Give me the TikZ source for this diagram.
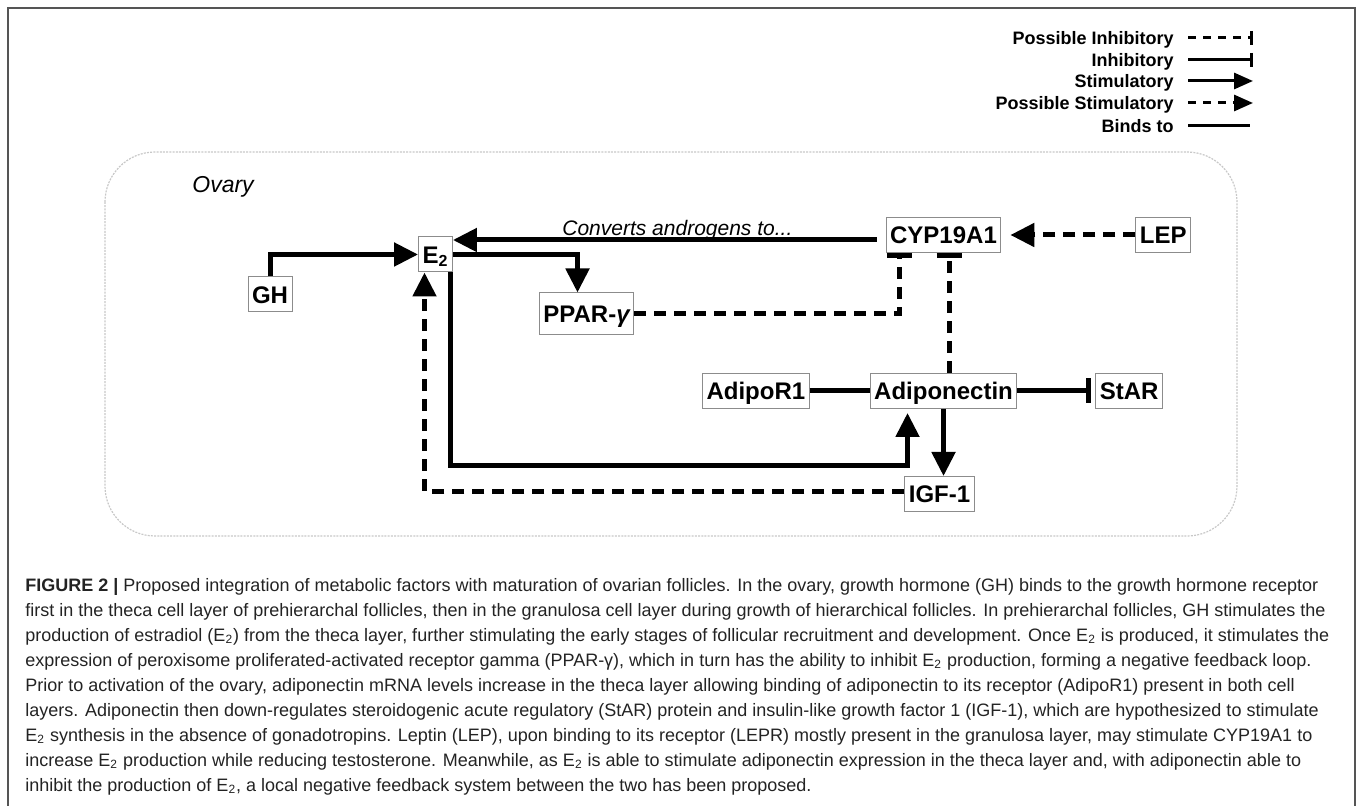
\documentclass[tikz,border=0pt]{standalone}
\usepackage{fontspec}
\setmainfont{Liberation Sans}
\usetikzlibrary{arrows.meta,positioning}
\definecolor{framegray}{RGB}{85,85,85}
\definecolor{boxgray}{RGB}{140,140,140}
\definecolor{ovarygray}{RGB}{200,200,200}
\definecolor{captext}{RGB}{35,35,35}

\begin{document}
\begin{tikzpicture}[
    x=0.5pt, y=-0.5pt,
    factor/.style={rectangle, draw=boxgray, line width=0.5pt, font=\bfseries\fontsize{12pt}{14pt}\selectfont, text height=8.6pt, text depth=0pt, inner xsep=2pt, inner ysep=4.45pt},
    stim/.style={-{Triangle[length=12pt,width=11.5pt]}, line width=2.5pt},
    pstim/.style={stim, dash pattern=on 6pt off 4pt},
    inh/.style={-{Bar[width=12.5pt]}, line width=2.5pt},
    pinh/.style={inh, dash pattern=on 6pt off 4pt},
    binds/.style={line width=2.5pt},
    keytext/.style={anchor=east, inner sep=0pt, font=\bfseries\fontsize{9pt}{11pt}\selectfont, text height=6.45pt, text depth=0pt},
    keyline/.style={line width=1.5pt, shorten <=7pt},
    keystim/.style={keyline, -{Triangle[length=9.5pt,width=8pt]}},
    keypstim/.style={keystim, dash pattern=on 4pt off 3.5pt},
    keyinh/.style={keyline, -{Bar[width=7pt]}},
    keypinh/.style={keyinh, dash pattern=on 4pt off 3.5pt},
    ovarybox/.style={draw=ovarygray, line width=0.6pt, dash pattern=on 1pt off 0.6pt, rounded corners=25pt}
]
\useasboundingbox (0,0) rectangle (1358,806);

% Frame
\draw[framegray, line width=1pt] (8,806) -- (8,8) -- (1355,8) -- (1355,806);

% Legend
\coordinate (keyx) at (1253,0);
\node[keytext] (kpinh) at (1174,38) {Possible Inhibitory};
\node[keytext] (kinh) at (1174,60) {Inhibitory};
\node[keytext] (kstim) at (1174,81) {Stimulatory};
\node[keytext] (kpstim) at (1174,103) {Possible Stimulatory};
\node[keytext] (kbinds) at (1174,126) {Binds to};
\draw[keypinh] (kpinh.east) -- (kpinh.east -| keyx);
\draw[keyinh] (kinh.east) -- (kinh.east -| keyx);
\draw[keystim] (kstim.east) -- (kstim.east -| keyx);
\draw[keypstim] (kpstim.east) -- (kpstim.east -| keyx);
\draw[keyline, shorten >=1.5pt] (kbinds.east) -- (kbinds.east -| keyx);

% Ovary
\draw[ovarybox] (105,152) rectangle (1237,536);
\node[anchor=base west, inner sep=0pt, font=\itshape\fontsize{11.5pt}{13pt}\selectfont] (ovary) at (192,193) {Ovary};

% Factors
\node[factor] (gh) at (270,294.5) {GH};
\node[factor] (e2) at (435.5,254.5) {E\textsubscript{2}};
\node[factor, minimum height=21pt] (ppar) at (586.5,314) {PPAR-{\itshape γ}};
\node[factor] (cyp) at (943.5,235) {CYP19A1};
\node[factor, right=67pt of cyp] (lep) {LEP};
\node[factor] (adipo) at (943.5,391) {Adiponectin};
\node[factor, left=30pt of adipo] (adipor) {AdipoR1};
\node[factor, right=39pt of adipo] (star) {StAR};
\node[factor] (igf) at (939.5,494) {IGF-1};

% Connectors
\coordinate (convy) at ([yshift=-2.5pt]cyp.west);
\draw[stim, shorten <=4.5pt] (convy) -- (convy -| e2.east);
\node[anchor=base west, inner sep=0pt, font=\itshape\fontsize{10.5pt}{12pt}\selectfont] (convlabel) at (562,236) {Converts androgens to...};
\draw[stim] (gh.north) |- (e2.west);
\draw[pstim, shorten >=4.5pt] (lep.west) -- (cyp.east);
\draw[stim] (e2.east) -| ([xshift=-4.5pt]ppar.north);
\draw[pinh] (ppar.east) -| ([xshift=-22.25pt]cyp.south);
\draw[pinh] ([xshift=2.75pt]adipo.north) -- ([xshift=2.75pt]cyp.south);
\draw[binds] (adipor.east) -- (adipo.west);
\draw[inh, shorten >=2pt] (adipo.east) -- (star.west);
\draw[stim] (adipo.south) -- (adipo.south |- igf.north);
\coordinate (e2out) at ([xshift=-1pt]e2.south east);
\coordinate (adipoin) at ([xshift=-18pt,yshift=-2pt]adipo.south);
\coordinate (lowy) at (0,465);
\draw[stim] (e2out) |- (lowy -| adipoin) -- (adipoin);
\draw[pstim] ([yshift=1.5pt]igf.west) -| ([xshift=-5.5pt]e2.south);

% Caption
\node[anchor=north west, inner sep=0pt, align=left, text=captext, font=\fontsize{9pt}{12.5pt}\selectfont] (caption) at (25,578) {%
\textbf{FIGURE 2 |} Proposed integration of metabolic factors with maturation of ovarian follicles. In the ovary, growth hormone (GH) binds to the growth hormone receptor\\
first in the theca cell layer of prehierarchal follicles, then in the granulosa cell layer during growth of hierarchical follicles. In prehierarchal follicles, GH stimulates the\\
production of estradiol (E\textsubscript{2}) from the theca layer, further stimulating the early stages of follicular recruitment and development. Once E\textsubscript{2} is produced, it stimulates the\\
expression of peroxisome proliferated-activated receptor gamma (PPAR-γ), which in turn has the ability to inhibit E\textsubscript{2} production, forming a negative feedback loop.\\
Prior to activation of the ovary, adiponectin mRNA levels increase in the theca layer allowing binding of adiponectin to its receptor (AdipoR1) present in both cell\\
layers. Adiponectin then down-regulates steroidogenic acute regulatory (StAR) protein and insulin-like growth factor 1 (IGF-1), which are hypothesized to stimulate\\
E\textsubscript{2} synthesis in the absence of gonadotropins. Leptin (LEP), upon binding to its receptor (LEPR) mostly present in the granulosa layer, may stimulate CYP19A1 to\\
increase E\textsubscript{2} production while reducing testosterone. Meanwhile, as E\textsubscript{2} is able to stimulate adiponectin expression in the theca layer and, with adiponectin able to\\
inhibit the production of E\textsubscript{2}, a local negative feedback system between the two has been proposed.};
\end{tikzpicture}
\end{document}
